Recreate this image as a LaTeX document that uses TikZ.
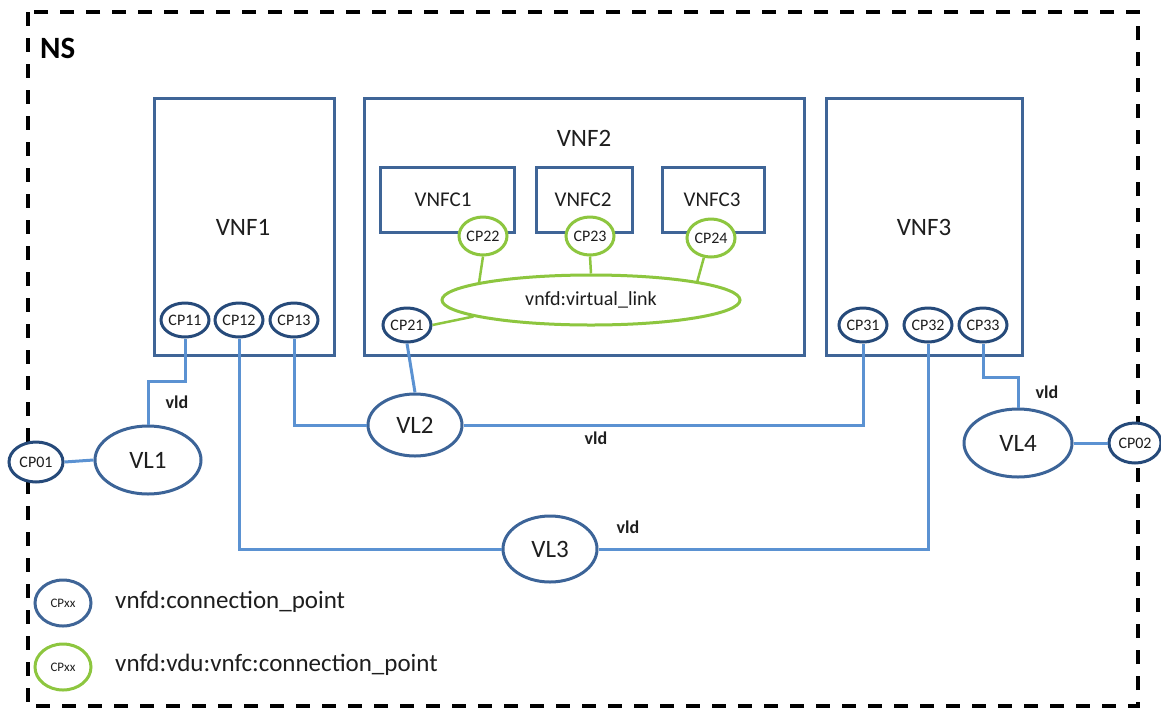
\documentclass[tikz,border=0pt]{standalone}
\usepackage{fontspec}
\setmainfont{Carlito}
\usetikzlibrary{shapes.geometric}
\definecolor{boxblue}{RGB}{63,101,151}
\definecolor{linkblue}{RGB}{91,146,210}
\definecolor{cpblue}{RGB}{38,74,122}
\definecolor{vlblue}{RGB}{60,100,152}
\definecolor{cpgreen}{RGB}{141,198,63}
\definecolor{txt}{RGB}{30,30,30}
\begin{document}
\begin{tikzpicture}[x=1pt,y=-1pt,
  vnfbox/.style={draw=boxblue,line width=3pt,inner sep=0pt,fill=white},
  lbl/.style={text=txt,inner sep=0pt},
  cp/.style={ellipse,draw=cpblue,line width=3pt,fill=white,inner sep=0pt,
     minimum width=48pt,minimum height=34pt,text=txt,font=\fontsize{16}{16}\selectfont},
  gcp/.style={ellipse,draw=cpgreen,line width=3pt,fill=white,inner sep=0pt,
     minimum width=48pt,minimum height=38pt,text=txt,font=\fontsize{16}{16}\selectfont},
  vl/.style={ellipse,draw=vlblue,line width=3pt,fill=white,inner sep=0pt,text=txt,
     font=\fontsize{25}{25}\selectfont},
  link/.style={draw=linkblue,line width=3pt},
  glink/.style={draw=cpgreen,line width=2.5pt},
  vld/.style={inner sep=0pt,text=txt,font=\fontsize{18}{18}\selectfont\bfseries}
]
\useasboundingbox (0,0) rectangle (1161,713);
\draw[line width=4pt,dash pattern=on 14pt off 12pt] (28,12) rectangle (1138,706);
\node[anchor=west,inner sep=0pt,font=\fontsize{31}{31}\selectfont\bfseries] (ns) at (40,48) {NS};

% VNF boxes
\node[vnfbox,minimum width=180pt,minimum height=257pt] (vnf1) at (244,226.5) {};
\node[vnfbox,minimum width=440pt,minimum height=257pt] (vnf2) at (584,226.5) {};
\node[vnfbox,minimum width=196pt,minimum height=257pt] (vnf3) at (924,226.5) {};
\node[lbl,font=\fontsize{25}{25}\selectfont] (vnf1l) at (243,227) {VNF1};
\node[lbl,font=\fontsize{25}{25}\selectfont] (vnf2l) at (584,138) {VNF2};
\node[lbl,font=\fontsize{25}{25}\selectfont] (vnf3l) at (924,227) {VNF3};

% VNFCs
\node[vnfbox,minimum width=134pt,minimum height=65pt] (vnfc1) at (447,199.5) {};
\node[vnfbox,minimum width=96pt,minimum height=65pt] (vnfc2) at (584,199.5) {};
\node[vnfbox,minimum width=102pt,minimum height=65pt] (vnfc3) at (713,199.5) {};
\node[lbl,font=\fontsize{21}{21}\selectfont] (vnfc1l) at (443,200) {VNFC1};
\node[lbl,font=\fontsize{21}{21}\selectfont] (vnfc2l) at (583,200) {VNFC2};
\node[lbl,font=\fontsize{21}{21}\selectfont] (vnfc3l) at (712,200) {VNFC3};

% internal virtual link
\node[ellipse,draw=cpgreen,line width=3pt,fill=white,inner sep=0pt,
      minimum width=298pt,minimum height=50pt,text=txt,font=\fontsize{20}{20}\selectfont]
      (vlink) at (591,300) {vnfd:virtual\_link};
\node[gcp] (cp22) at (483,236) {CP22};
\node[gcp] (cp23) at (590,236) {CP23};
\node[gcp] (cp24) at (711,238) {CP24};

% connection points
\node[cp] (cp11) at (185,320) {CP11};
\node[cp] (cp12) at (239,320) {CP12};
\node[cp] (cp13) at (294,320) {CP13};
\node[cp] (cp21) at (407,325) {CP21};
\node[cp] (cp31) at (863,325) {CP31};
\node[cp] (cp32) at (928,325) {CP32};
\node[cp] (cp33) at (983,325) {CP33};
\node[cp,minimum width=54pt,minimum height=40pt] (cp01) at (36,462) {CP01};
\node[cp,minimum width=52pt,minimum height=40pt] (cp02) at (1135,443) {CP02};

% virtual links
\node[vl,minimum width=106pt,minimum height=68pt] (vl1) at (148,460) {VL1};
\node[vl,minimum width=94pt,minimum height=62pt] (vl2) at (415,425) {VL2};
\node[vl,minimum width=94pt,minimum height=66pt] (vl3) at (550,549) {VL3};
\node[vl,minimum width=108pt,minimum height=68pt] (vl4) at (1018,443) {VL4};

% green links
\draw[glink] (cp22.south) -- (vlink.171);
\draw[glink] (cp23.south) -- (vlink.north);
\draw[glink] (cp24.250) -- (vlink.10);
\draw[glink] (cp21.east) -- (vlink.188);

% blue links
\draw[link] (cp11.south) -- ++(0,43) -| (vl1.north);
\draw[link] (vl1.west) -- (cp01.east);
\draw[link] (cp13.south) |- (vl2.west);
\draw[link] (vl2.east) -| (cp31.south);
\draw[link] (cp21.south) -- (vl2.north);
\draw[link] (cp12.south) |- (vl3.west);
\draw[link] (vl3.east) -| (cp32.south);
\draw[link] (cp33.south) -- ++(0,34) -| (vl4.north);
\draw[link] (vl4.east) -- (cp02.west);

% vld labels
\node[vld] (vld1) at (177,402) {vld};
\node[vld] (vld2) at (596,438) {vld};
\node[vld] (vld3) at (628,527) {vld};
\node[vld] (vld4) at (1047,392) {vld};

% legend
\node[cp,draw=boxblue,minimum width=56pt,minimum height=46pt,font=\fontsize{13}{13}\selectfont] (lg1) at (63,603) {CPxx};
\node[gcp,minimum width=56pt,minimum height=46pt,font=\fontsize{13}{13}\selectfont] (lg2) at (63,667) {CPxx};
\node[lbl,anchor=west,font=\fontsize{25}{25}\selectfont] (lg1t) at (115,602) {vnfd:connection\_point};
\node[lbl,anchor=west,font=\fontsize{25}{25}\selectfont] (lg2t) at (115,665) {vnfd:vdu:vnfc:connection\_point};
\end{tikzpicture}
\end{document}
